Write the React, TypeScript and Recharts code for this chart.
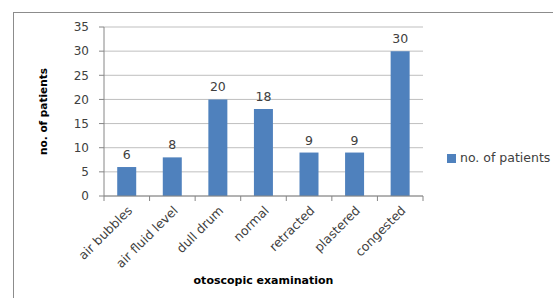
import { BarChart, Bar, XAxis, YAxis, CartesianGrid, Legend, LabelList, Label } from 'recharts';

const categories = ['air bubbles', 'air fluid level', 'dull drum', 'normal', 'retracted', 'plastered', 'congested'];
const patients = [6, 8, 20, 18, 9, 9, 30];
const yTicks = [0, 5, 10, 15, 20, 25, 30, 35];

const chartData = categories.map((name, i) => ({ name, patients: patients[i] }));

const font = '"DejaVu Sans", Verdana, sans-serif';
const textColor = '#404040';
const axisColor = '#868686';

// category tick: label rotated -45, tick marks drawn on the category boundaries
const CategoryTick = (props: any) => {
  const { x, y, payload, visibleTicksCount } = props;
  const half = payload?.offset ?? 0;
  const ty = y + 9;
  return (
    <g>
      <line x1={x - half} x2={x - half} y1={y} y2={y + 5} stroke={axisColor} />
      {payload.index === visibleTicksCount - 1 && (
        <line x1={x + half} x2={x + half} y1={y} y2={y + 5} stroke={axisColor} />
      )}
      <text
        x={x}
        y={ty}
        dy="0.71em"
        textAnchor="end"
        transform={`rotate(-45 ${x} ${ty})`}
        fontSize={12.5}
        fill={textColor}
        fontFamily={font}
      >
        {payload.value}
      </text>
    </g>
  );
};

export default function App() {
  return (
    <div style={{ position: 'relative', width: 553, height: 298, overflow: 'hidden', background: '#fff', fontFamily: font }}>
      <style>{'body { margin: 0; } .recharts-legend-wrapper ul { text-align: left !important; }'}</style>
      <div style={{ position: 'absolute', left: 13, top: 12, width: 700, height: 500, border: '1px solid #8c8c8c' }} />
      <BarChart
        width={553}
        height={298}
        data={chartData}
        margin={{ top: 27, right: 130, left: 0, bottom: 0 }}
        barCategoryGap="29%"
        style={{ position: 'absolute', left: 0, top: 0 }}
      >
        <CartesianGrid vertical={false} stroke="#bfbfbf" />
        <XAxis
          dataKey="name"
          height={102}
          interval={0}
          tickLine={false}
          tickSize={0}
          tickMargin={0}
          axisLine={{ stroke: axisColor }}
          tick={<CategoryTick />}
        >
          <Label
            value="otoscopic examination"
            position="insideBottom"
            offset={14}
            style={{ fontSize: 11, fontWeight: 'bold', fill: '#000', fontFamily: font }}
          />
        </XAxis>
        <YAxis
          width={104}
          domain={[0, 35]}
          ticks={yTicks}
          interval={0}
          tickSize={5}
          tickMargin={10}
          axisLine={{ stroke: axisColor }}
          tickLine={{ stroke: axisColor }}
          tick={{ fontSize: 12, fill: textColor, fontFamily: font }}
        >
          <Label
            value="no. of patients"
            angle={-90}
            position="center"
            dx={-9}
            style={{ fontSize: 10.5, fontWeight: 'bold', fill: '#000', fontFamily: font }}
          />
        </YAxis>
        <Legend
          layout="vertical"
          align="center"
          verticalAlign="middle"
          iconType="square"
          iconSize={9}
          wrapperStyle={{ left: 447, top: 150, width: 120, fontSize: 12.5, fontFamily: font }}
          formatter={(value) => <span style={{ color: textColor }}>{value}</span>}
        />
        <Bar dataKey="patients" name="no. of patients" fill="#4f81bd" isAnimationActive={false}>
          <LabelList dataKey="patients" position="top" offset={8} style={{ fontSize: 12.5, fill: textColor, fontFamily: font }} />
        </Bar>
      </BarChart>
    </div>
  );
}
